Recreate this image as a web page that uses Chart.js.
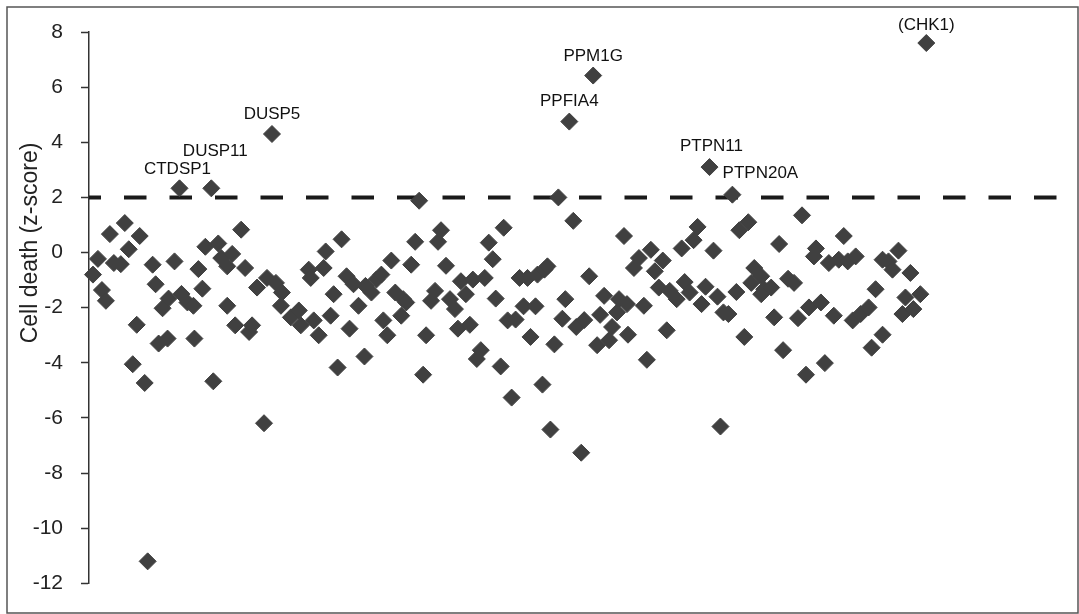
<!DOCTYPE html>
<html>
<head>
<meta charset="utf-8">
<script src="https://cdn.jsdelivr.net/npm/chart.js@4.4.1/dist/chart.umd.min.js"></script>
<style>
  html, body { margin: 0; padding: 0; background: #ffffff; }
  #wrap { width: 1079px; height: 614px; position: relative; }
</style>
</head>
<body>
<div id="wrap"><canvas id="chartOne"></canvas></div>
<script>
// gene order along the screen (position units) and cell death z-scores
const genePos = [
  4, 9, 13, 17, 21, 25, 32, 36, 40, 44, 48, 51, 56, 59, 64, 67, 70, 74, 79, 80,
  86, 91, 93, 99, 105, 106, 110, 114, 117, 123, 125, 130, 133, 139, 139, 144, 147, 153, 157, 161,
  164, 169, 176, 179, 184, 188, 193, 194, 203, 211, 213, 221, 223, 226, 231, 236, 238, 243, 246, 250,
  254, 259, 262, 266, 271, 277, 278, 284, 289, 294, 296, 300, 304, 308, 314, 316, 319, 324, 328, 332,
  336, 339, 344, 348, 351, 354, 359, 363, 368, 371, 374, 379, 383, 386, 390, 394, 398, 402, 406, 409,
  414, 417, 421, 425, 429, 433, 437, 441, 444, 449, 451, 456, 458, 461, 464, 468, 472, 476, 479, 483,
  487, 490, 495, 498, 503, 507, 511, 514, 518, 523, 526, 531, 533, 538, 541, 542, 548, 553, 558, 561,
  565, 569, 573, 577, 581, 584, 591, 596, 599, 604, 608, 612, 616, 620, 624, 628, 632, 635, 638, 643,
  647, 651, 654, 659, 663, 666, 669, 676, 676, 679, 686, 689, 694, 698, 703, 709, 713, 717, 721, 724,
  729, 731, 736, 740, 744, 749, 754, 759, 763, 768, 771, 776, 784, 787, 791, 798, 798, 804, 808, 814,
  818, 821, 826, 829, 836, 842
];
const zScore = [
  -0.80, -0.23, -1.36, -1.75, 0.67, -0.38, -0.42, 1.07, 0.12, -4.05, -2.62, 0.60, -4.73, -11.2, -0.44, -1.15, -3.30, -2.02, -3.12, -1.67,
  -0.32, 2.33, -1.50, -1.81, -1.93, -3.12, -0.60, -1.31, 0.21, 2.33, -4.67, 0.33, -0.20, -1.93, -0.50, -0.05, -2.64, 0.83, -0.56, -2.88,
  -2.64, -1.27, -6.19, -0.92, 4.30, -1.10, -1.93, -1.45, -2.35, -2.10, -2.64, -0.62, -0.92, -2.46, -3.00, -0.56, 0.04, -2.29, -1.51, -4.17,
  0.48, -0.86, -2.76, -1.15, -1.93, -3.77, -1.21, -1.45, -0.98, -0.80, -2.46, -3.00, -0.29, -1.45, -2.29, -1.69, -1.81, -0.44, 0.39, 1.88,
  -4.43, -3.00, -1.75, -1.39, 0.39, 0.81, -0.48, -1.69, -2.05, -2.76, -1.04, -1.51, -2.62, -0.98, -3.86, -3.54, -0.92, 0.36, -0.24, -1.67,
  -4.13, 0.90, -2.46, -5.26, -2.43, -0.92, -1.95, -0.92, -3.06, -1.95, -0.80, -4.79, -0.62, -0.50, -6.42, -3.33, 2.00, -2.40, -1.69, 4.75,
  1.15, -2.70, -7.26, -2.45, -0.86, 6.42, -3.36, -2.26, -1.57, -3.18, -2.70, -2.17, -1.69, 0.60, -1.87, -2.98, -0.56, -0.20, -1.93, -3.89,
  0.10, -0.68, -1.27, -0.29, -2.82, -1.39, -1.69, 0.15, -1.07, -1.45, 0.45, 0.93, -1.87, -1.24, 3.10, 0.07, -1.60, -6.31, -2.17, -2.23,
  2.10, -1.43, 0.81, -3.06, 1.10, -1.10, -0.56, -0.86, -1.51, -1.33, -1.27, -2.35, 0.31, -3.54, -0.95, -1.10, -2.38, 1.35, -4.43, -1.99,
  -0.14, 0.15, -1.81, -4.01, -0.38, -2.29, -0.26, 0.60, -0.32, -2.46, -0.14, -2.23, -1.99, -3.45, -1.33, -0.26, -2.98, -0.32, -0.62, 0.07,
  -2.23, -1.63, -0.74, -2.05, -1.51, 7.60
];

// named hits: gene label and its index in the arrays above
const hitNames = ["CTDSP1", "DUSP11", "DUSP5", "PPFIA4", "PPM1G", "PTPN11", "PTPN20A", "(CHK1)"];
const hitIndex = [21, 29, 44, 119, 125, 154, 160, 205];
// label offsets from the marker (pixels)
const hitOffset = [[-2, -19], [4, -37], [0, -20], [0, -20], [0, -19], [2, -21], [28, -21], [0, -18]];

const yTicks = [-12, -10, -8, -6, -4, -2, 0, 2, 4, 6, 8];
const cutoff = 2;
const posMin = 0;
const posMax = 986;

const points = genePos.map((p, i) => ({ x: p, y: zScore[i] }));

// frame + rotated axis title
const framePlugin = {
  id: "frame",
  beforeDraw(chart) {
    const ctx = chart.ctx;
    ctx.save();
    ctx.strokeStyle = "#555555";
    ctx.lineWidth = 1.5;
    ctx.strokeRect(7, 7, chart.width - 8, chart.height - 8);
    ctx.restore();
  },
  afterDraw(chart) {
    const ctx = chart.ctx;
    ctx.save();
    ctx.translate(31, 243);
    ctx.rotate(-Math.PI / 2);
    ctx.fillStyle = "#222222";
    ctx.font = "23px 'Liberation Sans', Arial, Helvetica, sans-serif";
    ctx.textAlign = "center";
    ctx.textBaseline = "middle";
    ctx.fillText("Cell death (z-score)", 0, 0);
    ctx.restore();
  },
};

// gene labels above the hits
const hitLabelPlugin = {
  id: "hitLabels",
  afterDatasetsDraw(chart) {
    const ctx = chart.ctx;
    const meta = chart.getDatasetMeta(0);
    ctx.save();
    ctx.fillStyle = "#111111";
    ctx.font = "17px 'Liberation Sans', Arial, Helvetica, sans-serif";
    ctx.textAlign = "center";
    ctx.textBaseline = "middle";
    hitNames.forEach((name, k) => {
      const el = meta.data[hitIndex[k]];
      ctx.fillText(name, el.x + hitOffset[k][0], el.y + hitOffset[k][1]);
    });
    ctx.restore();
  },
};

const chartOneCtx = document.getElementById("chartOne");
new Chart(chartOneCtx, {
  type: "scatter",
  data: {
    datasets: [
      {
        label: "z-score",
        data: points,
        pointStyle: "rectRot",
        pointRadius: 8.5,
        pointHoverRadius: 8.5,
        pointBorderWidth: 1,
        pointBackgroundColor: "#404040",
        pointBorderColor: "#404040",
        clip: false,
        order: 0,
      },
      {
        type: "line",
        label: "cutoff",
        data: [
          { x: posMin, y: cutoff },
          { x: posMax, y: cutoff },
        ],
        borderColor: "#1a1a1a",
        borderWidth: 4,
        borderDash: [22.5, 23],
        borderDashOffset: 10.5,
        pointRadius: 0,
        clip: false,
        order: 1,
      },
    ],
  },
  options: {
    responsive: true,
    maintainAspectRatio: false,
    animation: false,
    events: [],
    layout: {
      padding: { left: 0, top: 32, right: 4, bottom: 22 },
    },
    plugins: {
      legend: { display: false },
      tooltip: { enabled: false },
    },
    scales: {
      x: {
        type: "linear",
        display: false,
        min: posMin,
        max: posMax,
      },
      y: {
        type: "linear",
        min: -12,
        max: 8,
        afterFit(scale) {
          scale.width = 89;
        },
        afterBuildTicks(scale) {
          scale.ticks = yTicks.map((v) => ({ value: v }));
        },
        grid: {
          drawOnChartArea: false,
          drawTicks: true,
          tickLength: 8,
          tickColor: "#333333",
          tickWidth: 1.5,
        },
        border: {
          display: true,
          color: "#333333",
          width: 1.5,
        },
        ticks: {
          padding: 18,
          color: "#222222",
          font: { size: 21, family: "'Liberation Sans', Arial, Helvetica, sans-serif" },
        },
      },
    },
  },
  plugins: [framePlugin, hitLabelPlugin],
});
</script>
</body>
</html>
